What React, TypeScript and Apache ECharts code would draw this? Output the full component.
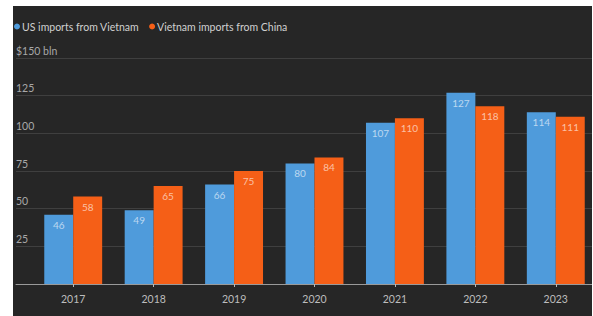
import React, { useEffect, useRef } from "react";
import * as echarts from "echarts";

const years = ["2017", "2018", "2019", "2020", "2021", "2022", "2023"];
const usImportsFromVietnam = [46, 49, 66, 80, 107, 127, 114];
const vietnamImportsFromChina = [58, 65, 75, 84, 110, 118, 111];
const seriesNames = ["US imports from Vietnam", "Vietnam imports from China"];
const yTicks = [0, 25, 50, 75, 100, 125, 150];

const FONT = "Lato";

export default function App() {
  const ref = useRef<HTMLDivElement>(null);
  useEffect(() => {
    if (!ref.current) return;
    const chart = echarts.init(ref.current, null, { renderer: "svg" });
    const yMax = yTicks[yTicks.length - 1];
    const step = yTicks[1] - yTicks[0];
    const barLabel = {
      show: true,
      position: "insideTop",
      distance: 5,
      color: "rgba(255,255,255,0.62)",
      fontSize: 10,
      fontFamily: FONT,
    };
    chart.setOption({
      animation: false,
      backgroundColor: "#262626",
      textStyle: { fontFamily: FONT },
      legend: {
        left: -4,
        top: 10,
        icon: "circle",
        itemWidth: 6,
        itemHeight: 6,
        itemGap: 10,
        textStyle: { color: "#d0d0d0", fontSize: 10.5, fontFamily: FONT, padding: [0, 0, 0, -3] },
        data: seriesNames,
      },
      grid: [
        { left: -3, right: 4, top: 52, bottom: 32 },
        { left: 20, right: 0, top: 52, bottom: 32 },
      ],
      xAxis: [
        {
          type: "category",
          gridIndex: 0,
          data: years,
          axisLine: { show: true, lineStyle: { color: "#9a9a9a", width: 1 } },
          axisTick: { show: false },
          axisLabel: { show: false },
          splitLine: { show: false },
        },
        {
          type: "category",
          gridIndex: 1,
          data: years,
          axisLine: { show: false },
          axisTick: { show: true, alignWithLabel: true, length: 3, lineStyle: { color: "#bbbbbb" } },
          axisLabel: { color: "#bdbdbd", fontSize: 10.5, margin: 9, fontFamily: FONT },
          splitLine: { show: false },
        },
      ],
      yAxis: [
        {
          type: "value",
          gridIndex: 0,
          min: 0,
          max: yMax,
          interval: step,
          axisLine: { show: false },
          axisTick: { show: false },
          splitLine: { show: true, lineStyle: { color: "#3f3f3f", width: 1 } },
          axisLabel: {
            inside: true,
            margin: 0,
            verticalAlign: "bottom",
            padding: [0, 0, 2, 0],
            color: "#a8a8a8",
            fontSize: 10.5,
            fontFamily: FONT,
            formatter: (v: number) => (v === 0 ? "" : v === yMax ? `$${v} bln` : `${v}`),
          },
        },
        {
          type: "value",
          gridIndex: 1,
          min: 0,
          max: yMax,
          interval: step,
          show: false,
          splitLine: { show: false },
        },
      ],
      series: [
        {
          name: seriesNames[0],
          type: "bar",
          xAxisIndex: 1,
          yAxisIndex: 1,
          data: usImportsFromVietnam,
          barGap: "0%",
          barCategoryGap: "28%",
          itemStyle: { color: "#4f9bdb" },
          label: barLabel,
        },
        {
          name: seriesNames[1],
          type: "bar",
          xAxisIndex: 1,
          yAxisIndex: 1,
          data: vietnamImportsFromChina,
          barGap: "0%",
          barCategoryGap: "28%",
          itemStyle: { color: "#f55f17" },
          label: barLabel,
        },
      ],
    });
    return () => chart.dispose();
  }, []);
  return (
    <div
      style={{
        position: "fixed",
        left: 13,
        top: 6,
        width: 579,
        height: 310,
        overflow: "hidden",
        background: "#262626",
      }}
    >
      <div ref={ref} style={{ width: 583, height: 310 }} />
    </div>
  );
}
